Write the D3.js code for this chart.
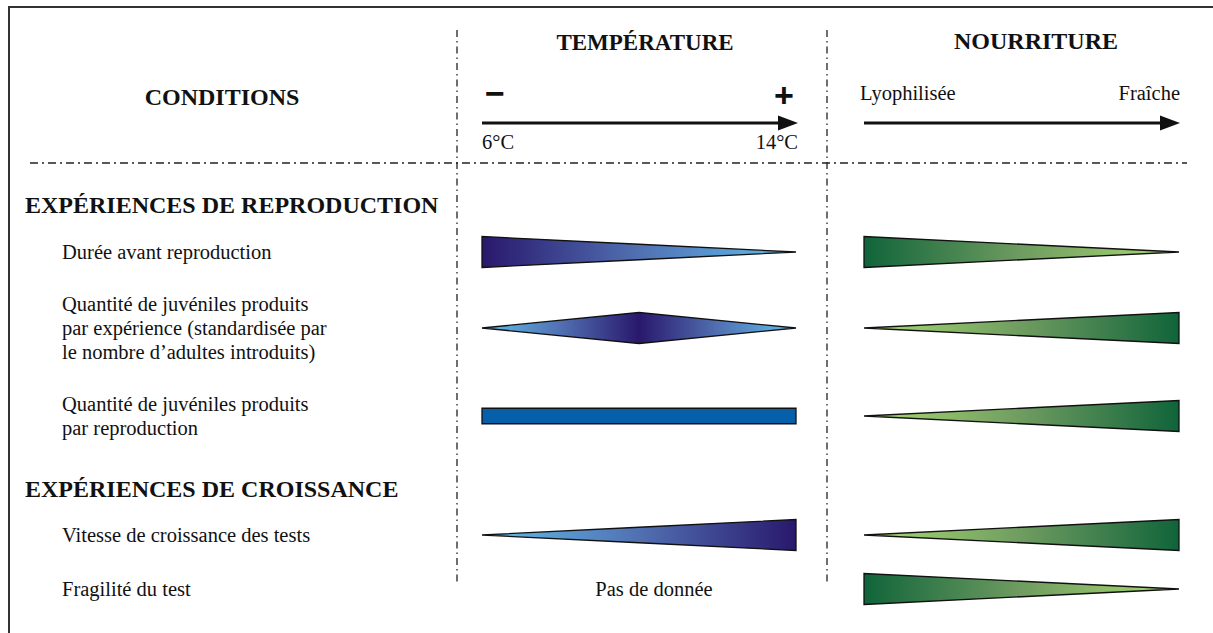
<!DOCTYPE html>
<html>
<head>
<meta charset="utf-8">
<script src="https://cdn.jsdelivr.net/npm/d3@7"></script>
<style>
  body { margin: 0; background: #fff; }
  text { font-family: "Liberation Serif", "Times New Roman", serif; fill: #111; }
</style>
</head>
<body>
<script>
// row labels (one entry per line)
var rowLabels = [
  ["Durée avant reproduction"],
  ["Quantité de juvéniles produits", "par expérience (standardisée par", "le nombre d’adultes introduits)"],
  ["Quantité de juvéniles produits", "par reproduction"],
  ["Vitesse de croissance des tests"],
  ["Fragilité du test"]
];
var sections = ["EXPÉRIENCES DE REPRODUCTION", "EXPÉRIENCES DE CROISSANCE"];

// temperature axis
var tempRange = [6, 14];
var tempTicks = ["6°C", "14°C"];
// relative effect (thickness 0..1) at 6, 10 and 14 °C, null = no data
var tempEffect = [
  [1, 0.5, 0],
  [0, 1, 0],
  [0.5, 0.5, 0.5],
  [0, 0.5, 1],
  null
];
var tempFlat = [false, false, true, false, false];

// food axis
var foodTicks = ["Lyophilisée", "Fraîche"];
var foodEffect = [
  [1, 0.5, 0],
  [0, 0.5, 1],
  [0, 0.5, 1],
  [0, 0.5, 1],
  [1, 0.5, 0]
];

// ---- layout
var width = 1213, height = 633;
var rowY = [252, 328, 416, 535, 589];
var sectionY = [213, 497];

var svg = d3.select("body").append("svg")
  .attr("width", width)
  .attr("height", height);

var defs = svg.append("defs");

var xTemp = d3.scaleLinear().domain(tempRange).range([482, 796]);
var xFood = d3.scaleLinear().domain([0, 1]).range([864, 1179]);
var thick = d3.scaleLinear().domain([0, 1]).range([0, 31]);

var blue = d3.scaleLinear().domain([0, 0.5, 1]).range(["#5fc0f0", "#5170b2", "#29186c"]);
var green = d3.scaleLinear().domain([0, 0.5, 1]).range(["#aadc72", "#6f9c60", "#10643a"]);

// frame
svg.append("line").attr("x1", 9).attr("x2", width).attr("y1", 7).attr("y2", 7)
  .style("stroke", "#333").style("stroke-width", 2);
svg.append("line").attr("x1", 9).attr("x2", 9).attr("y1", 6).attr("y2", height)
  .style("stroke", "#333").style("stroke-width", 2);

// dash-dot separators
var dash = "8,4,2,4";
svg.append("line").attr("x1", 30).attr("x2", 1187).attr("y1", 163).attr("y2", 163)
  .style("stroke", "#222").style("stroke-width", 1.3).style("stroke-dasharray", dash);
[457, 827].forEach(function (x) {
  svg.append("line").attr("x1", x).attr("x2", x).attr("y1", 30).attr("y2", 585)
    .style("stroke", "#222").style("stroke-width", 1.3).style("stroke-dasharray", "7,4,1.5,4");
});

// headers
function bold(txt, x, y, anchor) {
  return svg.append("text").attr("x", x).attr("y", y)
    .style("font-size", "24px").style("font-weight", "bold")
    .style("text-anchor", anchor || "middle").text(txt);
}
bold("CONDITIONS", 222, 105);
bold("TEMPÉRATURE", 645, 50).style("font-size", "23px");
bold("NOURRITURE", 1036, 49);

function arrow(x0, x1, y) {
  svg.append("line").attr("x1", x0).attr("x2", x1 - 14).attr("y1", y).attr("y2", y)
    .style("stroke", "#111").style("stroke-width", 3);
  svg.append("path")
    .attr("d", "M" + x1 + "," + y + "L" + (x1 - 20) + "," + (y - 7.5) + "L" + (x1 - 20) + "," + (y + 7.5) + "Z")
    .style("fill", "#111");
}
arrow(xTemp(tempRange[0]), xTemp(tempRange[1]) + 2, 123);
arrow(xFood(0), xFood(1) + 1, 123);

svg.append("text").attr("x", xTemp(tempRange[0]) + 13).attr("y", 105)
  .style("font-family", "'Liberation Sans', Arial, sans-serif")
  .style("font-size", "34px").style("font-weight", "bold").style("text-anchor", "middle").text("−");
svg.append("text").attr("x", xTemp(tempRange[1]) - 12).attr("y", 107)
  .style("font-family", "'Liberation Sans', Arial, sans-serif")
  .style("font-size", "34px").style("font-weight", "bold").style("text-anchor", "middle").text("+");

svg.append("text").attr("x", xTemp(tempRange[0])).attr("y", 149)
  .style("font-size", "20.5px").text(tempTicks[0]);
svg.append("text").attr("x", xTemp(tempRange[1]) + 2).attr("y", 149)
  .style("font-size", "20.5px").style("text-anchor", "end").text(tempTicks[1]);
svg.append("text").attr("x", xFood(0) - 4).attr("y", 100)
  .style("font-size", "20.5px").text(foodTicks[0]);
svg.append("text").attr("x", xFood(1) + 1).attr("y", 100)
  .style("font-size", "20.5px").style("text-anchor", "end").text(foodTicks[1]);

// sections and row labels
sections.forEach(function (s, i) {
  bold(s, 25, sectionY[i], "start");
});

rowLabels.forEach(function (lines, i) {
  var y0 = rowY[i] - (lines.length - 1) * 24 / 2 + 7;
  svg.append("text")
    .attr("x", 62).attr("y", y0)
    .style("font-size", "20.5px")
    .selectAll("tspan")
    .data(lines)
    .enter().append("tspan")
    .attr("x", 62)
    .attr("dy", function (d, j) { return j === 0 ? 0 : 24; })
    .text(function (d) { return d; });
});

// shapes
var area = d3.area()
  .x(function (d) { return d.x; })
  .y0(function (d) { return d.cy - thick(d.w) / 2; })
  .y1(function (d) { return d.cy + thick(d.w) / 2; });

function drawShape(effect, xs, cy, color, id, flat) {
  var pts = effect.map(function (w, j) { return {x: xs[j], w: w, cy: cy}; });
  var fill;
  if (flat) {
    fill = "#0660a9";
  } else {
    var grad = defs.append("linearGradient")
      .attr("id", id)
      .attr("gradientUnits", "userSpaceOnUse")
      .attr("x1", xs[0]).attr("x2", xs[xs.length - 1])
      .attr("y1", 0).attr("y2", 0);
    var n = 8;
    d3.range(n + 1).forEach(function (k) {
      var t = k / n;
      var xx = xs[0] + t * (xs[xs.length - 1] - xs[0]);
      // thickness at this x
      var w = xx <= xs[1]
        ? effect[0] + (effect[1] - effect[0]) * (xx - xs[0]) / (xs[1] - xs[0])
        : effect[1] + (effect[2] - effect[1]) * (xx - xs[1]) / (xs[2] - xs[1]);
      grad.append("stop").attr("offset", t).attr("stop-color", color(w));
    });
    fill = "url(#" + id + ")";
  }
  svg.append("path")
    .datum(pts)
    .attr("d", area)
    .style("fill", fill)
    .style("stroke", "#111")
    .style("stroke-width", 1.3)
    .style("stroke-linejoin", "miter");
}

var tempXs = [tempRange[0], (tempRange[0] + tempRange[1]) / 2, tempRange[1]].map(xTemp);
var foodXs = [0, 0.5, 1].map(xFood);

tempEffect.forEach(function (e, i) {
  if (e) drawShape(e, tempXs, rowY[i], blue, "gt" + i, tempFlat[i]);
  else {
    svg.append("text").attr("x", 654).attr("y", rowY[i] + 7)
      .style("font-size", "20.5px").style("text-anchor", "middle").text("Pas de donnée");
  }
});
foodEffect.forEach(function (e, i) {
  drawShape(e, foodXs, rowY[i], green, "gf" + i, false);
});
</script>
</body>
</html>
